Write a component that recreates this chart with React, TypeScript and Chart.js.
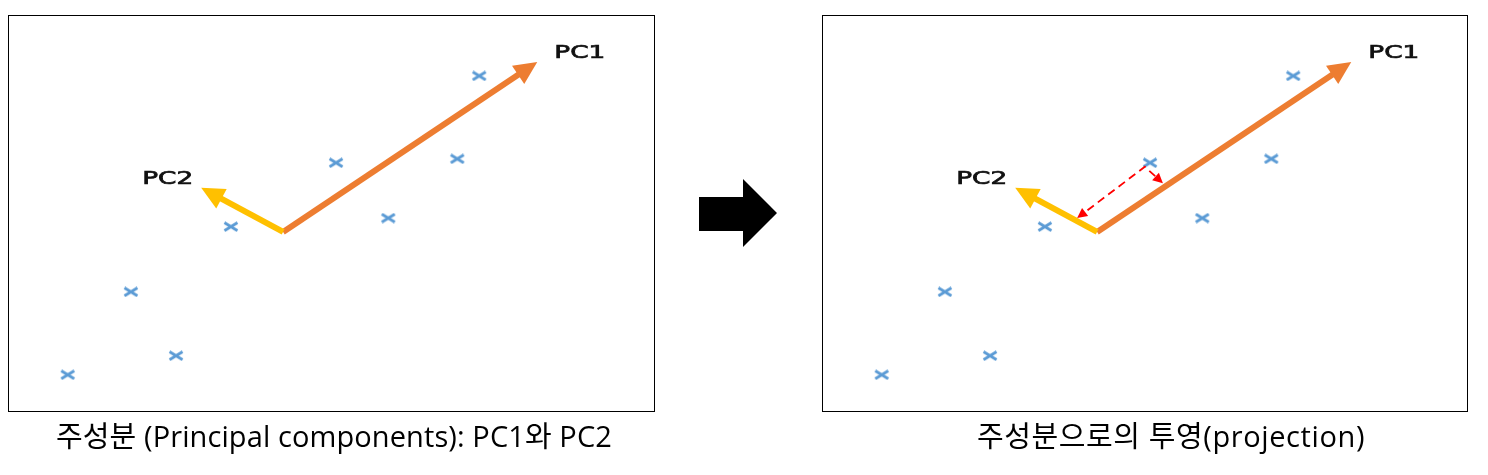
import React, { useEffect, useRef } from 'react';
import { Chart, registerables } from 'chart.js';

Chart.register(...registerables);

// Observations (arbitrary units)
const pointX = [0.91, 1.89, 2.59, 3.44, 5.07, 5.88, 6.95, 7.29];
const pointY = [0.55, 1.81, 0.84, 2.80, 3.77, 2.93, 3.83, 5.09];

// Principal component arrows
const componentNames = ['PC1', 'PC2'];
const originXY = [4.25, 2.72];
const pc1TipXY = [8.19, 5.30];
const pc2TipXY = [2.98, 3.39];

// Projection (dashed) path: PC2 foot -> observation -> PC1 foot
const projX = [3.94, 4.99, 5.27];
const projY = [2.93, 3.71, 3.46];

const captions = ['주성분 (Principal components): PC1와 PC2', '주성분으로의 투영(projection)'];

function makeMarker(): HTMLCanvasElement {
  const c = document.createElement('canvas');
  c.width = 16;
  c.height = 11;
  const g = c.getContext('2d')!;
  g.strokeStyle = '#5B9BD5';
  g.lineWidth = 2.8;
  g.beginPath();
  g.moveTo(1.5, 1.5);
  g.lineTo(14.5, 9.5);
  g.moveTo(1.5, 9.5);
  g.lineTo(14.5, 1.5);
  g.stroke();
  return c;
}

function headGeom(tip: any, prev: any) {
  const dx = tip.x - prev.x;
  const dy = tip.y - prev.y;
  const d = Math.hypot(dx, dy) || 1;
  return { ux: dx / d, uy: dy / d };
}

function clipBehind(ctx: CanvasRenderingContext2D, tip: any, prev: any, back: number) {
  const { ux, uy } = headGeom(tip, prev);
  const bx = tip.x - ux * back;
  const by = tip.y - uy * back;
  const px = -uy, py = ux;
  const B = 3000;
  ctx.beginPath();
  ctx.moveTo(bx + px * B, by + py * B);
  ctx.lineTo(bx + px * B - ux * B, by + py * B - uy * B);
  ctx.lineTo(bx - px * B - ux * B, by - py * B - uy * B);
  ctx.lineTo(bx - px * B, by - py * B);
  ctx.closePath();
  ctx.clip();
}

function drawHead(ctx: CanvasRenderingContext2D, tip: any, prev: any, len: number, half: number, color: string) {
  const { ux, uy } = headGeom(tip, prev);
  const px = -uy, py = ux;
  const bx = tip.x - ux * len;
  const by = tip.y - uy * len;
  ctx.beginPath();
  ctx.moveTo(tip.x, tip.y);
  ctx.lineTo(bx + px * half, by + py * half);
  ctx.lineTo(bx - px * half, by - py * half);
  ctx.closePath();
  ctx.fillStyle = color;
  ctx.fill();
}

const arrowPlugin = {
  id: 'pcaArrows',
  beforeDatasetDraw(chart: any, args: any) {
    const ds = chart.data.datasets[args.index];
    if (!ds.arrow) return;
    const pts = chart.getDatasetMeta(args.index).data;
    const ctx = chart.ctx;
    ctx.save();
    const n = pts.length;
    clipBehind(ctx, pts[n - 1], pts[n - 2], ds.arrow.len * 0.6);
    if (ds.arrow.both) clipBehind(ctx, pts[0], pts[1], ds.arrow.len * 0.6);
  },
  afterDatasetDraw(chart: any, args: any) {
    const ds = chart.data.datasets[args.index];
    if (!ds.arrow) return;
    const pts = chart.getDatasetMeta(args.index).data;
    const ctx = chart.ctx;
    ctx.restore();
    const n = pts.length;
    const a = ds.arrow;
    drawHead(ctx, pts[n - 1], pts[n - 2], a.len, a.half, ds.borderColor);
    if (a.both) drawHead(ctx, pts[0], pts[1], a.len, a.half, ds.borderColor);
    if (ds.tipLabel) {
      const tip = pts[n - 1];
      ctx.save();
      ctx.font = '18px "DejaVu Sans"';
      ctx.fillStyle = '#111';
      ctx.strokeStyle = '#111';
      ctx.lineWidth = 0.7;
      ctx.textBaseline = 'alphabetic';
      const raw = ctx.measureText(ds.tipLabel).width;
      const sx = 51 / raw;
      const w = raw * sx;
      const left = ds.labelSide === 'left' ? tip.x - 8 - w : tip.x + 17;
      ctx.translate(left, tip.y - 4);
      ctx.scale(sx, 1);
      ctx.textAlign = 'left';
      ctx.fillText(ds.tipLabel, 0, 0);
      ctx.strokeText(ds.tipLabel, 0, 0);
      ctx.restore();
    }
  },
};

function Panel({ showProjection }: { showProjection: boolean }) {
  const ref = useRef<HTMLCanvasElement>(null);
  useEffect(() => {
    if (!ref.current) return;
    const marker = makeMarker();
    const datasets: any[] = [];
    if (showProjection) {
      datasets.push({
        type: 'line',
        data: projX.map((x, i) => ({ x, y: projY[i] })),
        borderColor: '#FF0000',
        borderWidth: 1.8,
        borderDash: [8, 5],
        pointRadius: 0,
        fill: false,
        arrow: { len: 10, half: 5, both: true },
      });
    }
    datasets.push({
      type: 'scatter',
      data: pointX.map((x, i) => ({ x, y: pointY[i] })),
      pointStyle: marker,
      pointRadius: 6,
      showLine: false,
    });
    datasets.push({
      type: 'line',
      data: [
        { x: originXY[0], y: originXY[1] },
        { x: pc2TipXY[0], y: pc2TipXY[1] },
      ],
      borderColor: '#FFC000',
      borderWidth: 6,
      borderCapStyle: 'butt',
      pointRadius: 0,
      fill: false,
      arrow: { len: 23, half: 11 },
      tipLabel: componentNames[1],
      labelSide: 'left',
    });
    datasets.push({
      type: 'line',
      data: [
        { x: originXY[0], y: originXY[1] },
        { x: pc1TipXY[0], y: pc1TipXY[1] },
      ],
      borderColor: '#ED7D31',
      borderWidth: 6,
      borderCapStyle: 'butt',
      pointRadius: 0,
      fill: false,
      arrow: { len: 23, half: 11 },
      tipLabel: componentNames[0],
      labelSide: 'right',
    });
    const chart = new Chart(ref.current, {
      type: 'scatter',
      data: { datasets },
      options: {
        animation: false,
        responsive: false,
        events: [],
        layout: { padding: 0, autoPadding: false },
        plugins: { legend: { display: false }, tooltip: { enabled: false } },
        scales: {
          x: { type: 'linear', min: 0, max: 10, display: false },
          y: { type: 'linear', min: 0, max: 6, display: false },
        },
      } as any,
      plugins: [arrowPlugin as any],
    });
    return () => chart.destroy();
  }, [showProjection]);
  return <canvas ref={ref} width={645} height={395} style={{ display: 'block', width: 645, height: 395 }} />;
}

const captionStyle: React.CSSProperties = {
  position: 'absolute',
  top: 413,
  fontFamily: '"Open Sans", "Noto Sans CJK KR", sans-serif',
  fontSize: 29,
  lineHeight: '30px',
  color: '#000',
  whiteSpace: 'nowrap',
  transform: 'translateX(-50%)',
};

export default function App() {
  return (
    <div style={{ position: 'relative', width: 1472, height: 459 }}>
      <div style={{ position: 'absolute', left: 0, top: 7, width: 647, height: 397, border: '1px solid #000', boxSizing: 'border-box' }}>
        <Panel showProjection={false} />
      </div>
      <div style={{ position: 'absolute', left: 814, top: 7, width: 646, height: 397, border: '1px solid #000', boxSizing: 'border-box' }}>
        <Panel showProjection={true} />
      </div>
      <svg style={{ position: 'absolute', left: 0, top: 0 }} width={1472} height={459}>
        <polygon points="691,189 735,189 735,171 769,205 735,239 735,223 691,223" fill="#000" />
      </svg>
      <div style={{ ...captionStyle, left: 326, letterSpacing: 0.1 }}>{captions[0]}</div>
      <div style={{ ...captionStyle, left: 1163, letterSpacing: 0.6 }}>{captions[1]}</div>
    </div>
  );
}
